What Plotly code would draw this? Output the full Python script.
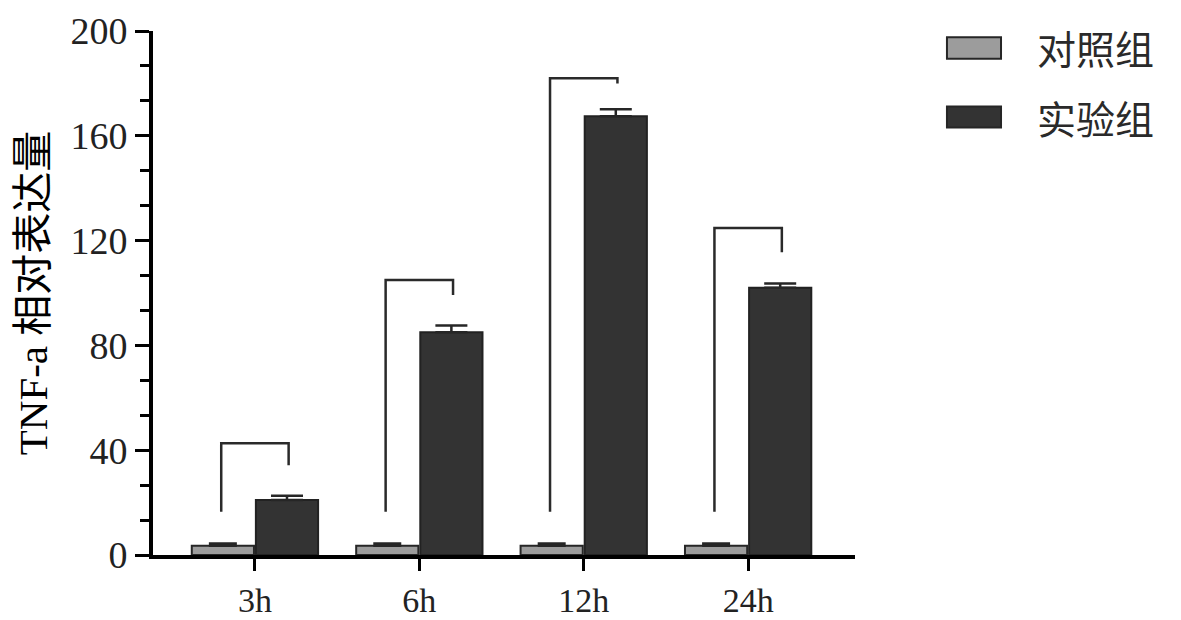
import plotly.graph_objects as go

categories = ["3h", "6h", "12h", "24h"]
x_pos = [0, 1, 2, 3]
control_vals = [3.5, 3.5, 3.5, 3.5]
control_err = [0.9, 0.9, 0.9, 0.9]
exp_vals = [21, 85, 167.5, 102]
exp_err = [1.6, 2.6, 2.6, 1.6]
series_names = ["对照组", "实验组"]

bracket_top = [42.7, 105, 182, 124.8]
bracket_left_end = [16.5, 16.5, 16.5, 16.5]
bracket_right_end = [34.3, 99.2, 180, 115.6]
bracket_half = 0.205

y_ticks = [0, 40, 80, 120, 160, 200]

serif = "Liberation Serif, Times New Roman, Noto Sans CJK SC, serif"

fig = go.Figure()
fig.add_trace(go.Bar(
    x=x_pos, y=control_vals, name=series_names[0],
    marker=dict(color="#9c9c9c", line=dict(color="#262626", width=2)),
    error_y=dict(type="data", array=control_err, arrayminus=[0] * 4, symmetric=False,
                 color="#262626", thickness=2.5, width=14),
    showlegend=False,
))
fig.add_trace(go.Bar(
    x=x_pos, y=exp_vals, name=series_names[1],
    marker=dict(color="#333333", line=dict(color="#222222", width=2)),
    error_y=dict(type="data", array=exp_err, arrayminus=[0] * 4, symmetric=False,
                 color="#262626", thickness=2.5, width=16),
    showlegend=False,
))

bx, by = [], []
for i in range(len(x_pos)):
    bx += [x_pos[i] - bracket_half, x_pos[i] - bracket_half, x_pos[i] + bracket_half, x_pos[i] + bracket_half, None]
    by += [bracket_left_end[i], bracket_top[i], bracket_top[i], bracket_right_end[i], None]
fig.add_trace(go.Scatter(x=bx, y=by, mode="lines", line=dict(color="#2a2a2a", width=2.5),
                         showlegend=False, hoverinfo="skip"))

# custom legend
legend_colors = ["#9c9c9c", "#333333"]
legend_y = [(0.947, 0.988), (0.816, 0.856)]
legend_text_y = [0.969, 0.835]
for k in range(2):
    fig.add_shape(type="rect", xref="paper", yref="paper",
                  x0=1.131, x1=1.208, y0=legend_y[k][0], y1=legend_y[k][1],
                  fillcolor=legend_colors[k], line=dict(color="#262626", width=2))
    fig.add_annotation(xref="paper", yref="paper", x=1.256, y=legend_text_y[k],
                       text=series_names[k], showarrow=False, xanchor="left", yanchor="middle",
                       font=dict(family="Noto Sans CJK SC", size=39, color="#2a2a2a"))

fig.update_layout(
    width=1181, height=620,
    margin=dict(l=145, r=334, t=23, b=73),
    paper_bgcolor="white", plot_bgcolor="white",
    barmode="group", bargap=0.22, bargroupgap=0.03,
    showlegend=False,
)
fig.update_xaxes(
    range=[-0.62, 3.65], tickvals=x_pos, ticktext=categories,
    showline=True, linecolor="black", linewidth=4,
    ticks="outside", ticklen=12, tickwidth=3, tickcolor="black",
    tickfont=dict(family=serif, size=34, color="#222"),
    showgrid=False, zeroline=False, automargin=False,
)
fig.update_yaxes(
    range=[0, 200], tickvals=y_ticks,
    showline=True, linecolor="black", linewidth=4,
    ticks="outside", ticklen=14, tickwidth=3, tickcolor="black",
    minor=dict(dtick=40/3, tick0=0, ticks="outside", ticklen=9, tickwidth=3, tickcolor="black"),
    tickfont=dict(family=serif, size=38, color="#222"),
    title=dict(text="TNF-a 相对表达量", font=dict(family=serif, size=41, color="black"), standoff=11),
    showgrid=False, zeroline=False, automargin=False,
)

fig.write_html("out.html")
